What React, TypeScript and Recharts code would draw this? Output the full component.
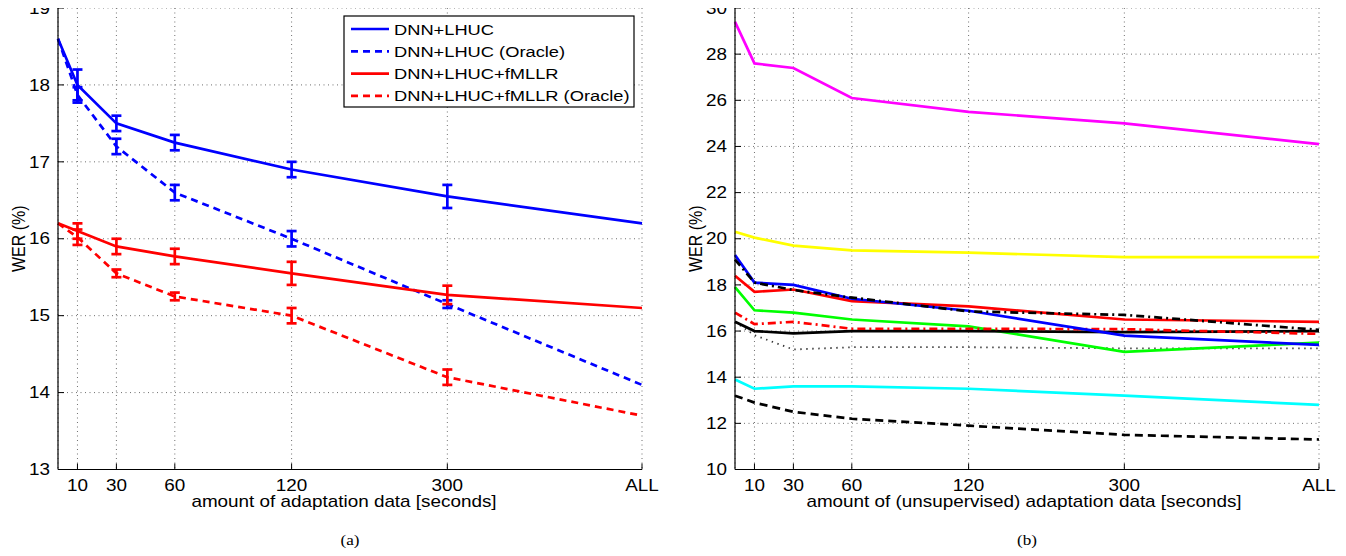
import React from 'react';
import { LineChart, Line, XAxis, YAxis, CartesianGrid, ErrorBar, Legend } from 'recharts';

// x positions of the adaptation-data amounts on the (linear) axis; labels below
const xPositions = [0, 10, 30, 60, 120, 200, 300];
const xTickPositions = [10, 30, 60, 120, 200, 300];
const xTickLabels = ['10', '30', '60', '120', '300', 'ALL'];

// Panel (a)
const lhuc = [18.6, 18.0, 17.5, 17.25, 16.9, 16.55, 16.2];
const lhucErr = [null, 0.2, 0.1, 0.1, 0.1, 0.15, null];
const lhucOracle = [18.6, 17.87, 17.2, 16.6, 16.0, 15.15, 14.1];
const lhucOracleErr = [null, 0.1, 0.1, 0.1, 0.1, 0.05, null];
const fmllr = [16.2, 16.1, 15.9, 15.77, 15.55, 15.27, 15.1];
const fmllrErr = [null, 0.1, 0.1, 0.1, 0.15, 0.12, null];
const fmllrOracle = [16.2, 16.02, 15.55, 15.25, 15.0, 14.2, 13.7];
const fmllrOracleErr = [null, 0.1, 0.05, 0.05, 0.1, 0.1, null];
const leftYTicks = [13, 14, 15, 16, 17, 18, 19];

// Panel (b)
const magenta = [29.4, 27.6, 27.4, 26.1, 25.5, 25.0, 24.1];
const yellow = [20.3, 20.05, 19.7, 19.5, 19.4, 19.2, 19.2];
const blueB = [19.3, 18.1, 18.0, 17.4, 16.88, 15.8, 15.4];
const blackDashDot = [19.1, 18.1, 17.78, 17.45, 16.85, 16.7, 16.05];
const redB = [18.4, 17.7, 17.8, 17.3, 17.07, 16.5, 16.4];
const greenB = [17.9, 16.9, 16.8, 16.5, 16.2, 15.1, 15.5];
const redDashDot = [16.8, 16.3, 16.4, 16.1, 16.1, 16.08, 15.88];
const blackSolid = [16.4, 16.0, 15.9, 16.0, 16.0, 15.95, 16.0];
const blackDotted = [16.4, 15.82, 15.2, 15.3, 15.3, 15.25, 15.25];
const cyanB = [13.9, 13.5, 13.6, 13.6, 13.5, 13.2, 12.8];
const blackDashed = [13.2, 12.9, 12.5, 12.2, 11.9, 11.5, 11.3];
const rightYTicks = [10, 12, 14, 16, 18, 20, 22, 24, 26, 28, 30];

const legendNames = ['DNN+LHUC', 'DNN+LHUC (Oracle)', 'DNN+LHUC+fMLLR', 'DNN+LHUC+fMLLR (Oracle)'];
const legendColors = ['#0000ff', '#0000ff', '#ff0000', '#ff0000'];
const legendDashes = ['', '7 5', '', '7 5'];

const dataA = xPositions.map((x, i) => ({
  x,
  lhuc: lhuc[i],
  lhucErr: lhucErr[i],
  lhucOracle: lhucOracle[i],
  lhucOracleErr: lhucOracleErr[i],
  fmllr: fmllr[i],
  fmllrErr: fmllrErr[i],
  fmllrOracle: fmllrOracle[i],
  fmllrOracleErr: fmllrOracleErr[i],
}));

const dataB = xPositions.map((x, i) => ({
  x,
  magenta: magenta[i],
  yellow: yellow[i],
  blueB: blueB[i],
  blackDashDot: blackDashDot[i],
  redB: redB[i],
  greenB: greenB[i],
  redDashDot: redDashDot[i],
  blackSolid: blackSolid[i],
  blackDotted: blackDotted[i],
  cyanB: cyanB[i],
  blackDashed: blackDashed[i],
}));

const FONT = '"Liberation Sans", Arial, Helvetica, sans-serif';
const SX = 1.18; // horizontal stretch of the original figure's lettering
const LW = 2.7;
const fmtX = (v: number) => {
  const i = xTickPositions.indexOf(v);
  return i >= 0 ? xTickLabels[i] : '';
};

const XTick = (props: any) => {
  const { x, y, payload } = props;
  return (
    <text transform={`translate(${x},${y}) scale(${SX},1)`} textAnchor="middle" dy="0.71em"
      fontSize={16} fontFamily={FONT} fill="#000">{fmtX(payload.value)}</text>
  );
};

const YTick = (props: any) => {
  const { x, y, payload } = props;
  return (
    <text transform={`translate(${x},${y}) scale(${SX},1)`} textAnchor="end" dy="0.355em"
      fontSize={16} fontFamily={FONT} fill="#000">{payload.value}</text>
  );
};

const makeXTitle = (title: string, shift: number) => (props: any) => {
  const vb = props.viewBox || {};
  const cx = vb.x + vb.width / 2 + shift;
  const by = vb.y + vb.height - 2.5;
  return (
    <text transform={`translate(${cx},${by}) scale(${SX},1)`} textAnchor="middle"
      fontSize={16} fontFamily={FONT} fill="#000">{title}</text>
  );
};

const YTitle = (props: any) => {
  const vb = props.viewBox || {};
  const cx = vb.x + 10;
  const cy = vb.y + vb.height / 2;
  return (
    <text transform={`translate(${cx},${cy}) rotate(-90) scale(1,${SX})`} textAnchor="middle" dy="0.36em"
      fontSize={16} fontFamily={FONT} fill="#000">WER (%)</text>
  );
};

const LegendBox = () => (
  <svg width={293} height={94} style={{ display: 'block' }}>
    <rect x={1} y={1} width={290} height={91} fill="#fff" stroke="#000" strokeWidth={1.2} />
    {legendNames.map((n, i) => {
      const cy = 14 + i * 22.3;
      return (
        <g key={n}>
          <line x1={8} x2={46} y1={cy} y2={cy} stroke={legendColors[i]} strokeWidth={LW}
            strokeDasharray={legendDashes[i] || undefined} />
          <text transform={`translate(51,${cy}) scale(${SX},1)`} dy="0.36em" fontSize={15.5}
            fontFamily={FONT} fill="#000">{n}</text>
        </g>
      );
    })}
  </svg>
);

function frame(yTicks: number[], yDomain: [number, number], xTitle: string, titleShift: number) {
  return [
    <CartesianGrid key="g" stroke="#6f6f6f" strokeDasharray="1 3.5" strokeWidth={1} />,
    <XAxis key="xb" dataKey="x" type="number" domain={[0, 300]} ticks={xTickPositions} interval={0}
      tickSize={-6} tickMargin={16} height={40}
      axisLine={{ stroke: '#000', strokeWidth: 1.2 }} tickLine={{ stroke: '#000' }}
      tick={<XTick />} label={makeXTitle(xTitle, titleShift)} />,
    <XAxis key="xt" xAxisId="top" orientation="top" type="number" domain={[0, 300]} ticks={xTickPositions}
      interval={0} tick={false} tickSize={-6} height={0}
      axisLine={{ stroke: '#000', strokeWidth: 1.2 }} tickLine={{ stroke: '#000' }} />,
    <YAxis key="yl" type="number" domain={yDomain} ticks={yTicks} interval={0} allowDataOverflow
      tickSize={-6} tickMargin={14} width={50}
      axisLine={{ stroke: '#000', strokeWidth: 1.2 }} tickLine={{ stroke: '#000' }}
      tick={<YTick />} label={YTitle} />,
    <YAxis key="yr" yAxisId="right" orientation="right" type="number" domain={yDomain} ticks={yTicks}
      interval={0} allowDataOverflow tick={false} tickSize={-6} width={0}
      axisLine={{ stroke: '#000', strokeWidth: 1.2 }} tickLine={{ stroke: '#000' }} />,
  ];
}

const CHART_MARGIN = { top: 8, left: 8, right: 18, bottom: 10.5 };
const captionStyle: React.CSSProperties = {
  position: 'absolute', top: 532, transform: `translateX(-50%) scaleX(${SX})`,
  fontFamily: '"Liberation Serif", "Times New Roman", serif', fontSize: 14.5, color: '#000',
};

export default function App() {
  return (
    <div style={{ position: 'relative', width: 1346, height: 556, margin: -8, overflow: 'hidden', background: '#fff' }}>
      <div style={{ position: 'absolute', left: 0, top: 0 }}>
        <LineChart width={660} height={520} data={dataA} margin={CHART_MARGIN}>
          {frame(leftYTicks, [13, 19], 'amount of adaptation data [seconds]', -6)}
          <Line dataKey="lhucOracle" name="DNN+LHUC (Oracle)" stroke="#0000ff" strokeWidth={LW} strokeDasharray="7 5" dot={false} isAnimationActive={false}>
            <ErrorBar dataKey="lhucOracleErr" width={5} stroke="#0000ff" strokeWidth={LW} isAnimationActive={false} />
          </Line>
          <Line dataKey="lhuc" name="DNN+LHUC" stroke="#0000ff" strokeWidth={LW} dot={false} isAnimationActive={false}>
            <ErrorBar dataKey="lhucErr" width={5} stroke="#0000ff" strokeWidth={LW} isAnimationActive={false} />
          </Line>
          <Line dataKey="fmllrOracle" name="DNN+LHUC+fMLLR (Oracle)" stroke="#ff0000" strokeWidth={LW} strokeDasharray="7 5" dot={false} isAnimationActive={false}>
            <ErrorBar dataKey="fmllrOracleErr" width={5} stroke="#ff0000" strokeWidth={LW} isAnimationActive={false} />
          </Line>
          <Line dataKey="fmllr" name="DNN+LHUC+fMLLR" stroke="#ff0000" strokeWidth={LW} dot={false} isAnimationActive={false}>
            <ErrorBar dataKey="fmllrErr" width={5} stroke="#ff0000" strokeWidth={LW} isAnimationActive={false} />
          </Line>
          <Legend layout="horizontal" verticalAlign="middle" align="center"
            wrapperStyle={{ left: 343, top: 15, width: 293, height: 94 }}
            content={() => <LegendBox />} />
        </LineChart>
      </div>
      <div style={{ position: 'absolute', left: 677, top: 0 }}>
        <LineChart width={660} height={520} data={dataB} margin={CHART_MARGIN}>
          {frame(rightYTicks, [10, 30], 'amount of (unsupervised) adaptation data [seconds]', -3)}
          <Line dataKey="magenta" stroke="#ff00ff" strokeWidth={LW} dot={false} isAnimationActive={false} />
          <Line dataKey="yellow" stroke="#ffff00" strokeWidth={LW} dot={false} isAnimationActive={false} />
          <Line dataKey="cyanB" stroke="#00ffff" strokeWidth={LW} dot={false} isAnimationActive={false} />
          <Line dataKey="blackDashed" stroke="#000" strokeWidth={LW} strokeDasharray="8 5" dot={false} isAnimationActive={false} />
          <Line dataKey="blackDotted" stroke="#333" strokeWidth={1.8} strokeDasharray="1.4 4.6" dot={false} isAnimationActive={false} />
          <Line dataKey="greenB" stroke="#00ff00" strokeWidth={LW} dot={false} isAnimationActive={false} />
          <Line dataKey="blackSolid" stroke="#000" strokeWidth={LW} dot={false} isAnimationActive={false} />
          <Line dataKey="redDashDot" stroke="#ff0000" strokeWidth={LW} strokeDasharray="8 4 2 4" dot={false} isAnimationActive={false} />
          <Line dataKey="redB" stroke="#ff0000" strokeWidth={LW} dot={false} isAnimationActive={false} />
          <Line dataKey="blueB" stroke="#0000ff" strokeWidth={LW} dot={false} isAnimationActive={false} />
          <Line dataKey="blackDashDot" stroke="#000" strokeWidth={LW} strokeDasharray="8 4 2 4" dot={false} isAnimationActive={false} />
        </LineChart>
      </div>
      <div style={{ ...captionStyle, left: 349.7 }}>(a)</div>
      <div style={{ ...captionStyle, left: 1027.3 }}>(b)</div>
    </div>
  );
}
